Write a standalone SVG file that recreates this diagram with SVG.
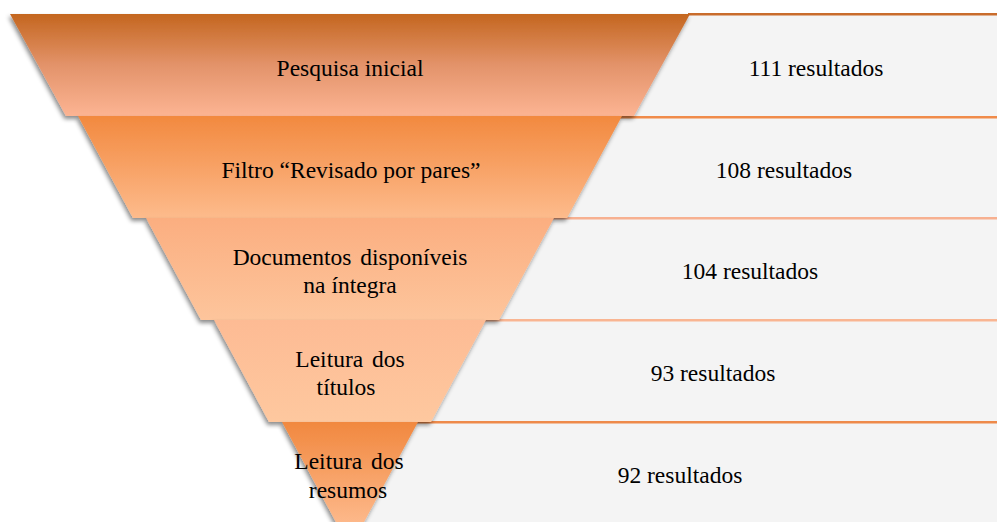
<svg xmlns="http://www.w3.org/2000/svg" width="997" height="522" viewBox="0 0 997 522">
<defs>
<linearGradient id="g1" x1="0" y1="0" x2="0" y2="1">
<stop offset="0" stop-color="#c4661f"/><stop offset="0.5" stop-color="#e3936a"/><stop offset="1" stop-color="#fcb493"/>
</linearGradient>
<linearGradient id="g2" x1="0" y1="0" x2="0" y2="1">
<stop offset="0" stop-color="#f2893f"/><stop offset="1" stop-color="#fdbb8c"/>
</linearGradient>
<linearGradient id="g3" x1="0" y1="0" x2="0" y2="1">
<stop offset="0" stop-color="#fbae80"/><stop offset="1" stop-color="#fdc59c"/>
</linearGradient>
<linearGradient id="g4" x1="0" y1="0" x2="0" y2="1">
<stop offset="0" stop-color="#fdbb94"/><stop offset="1" stop-color="#fec89f"/>
</linearGradient>
<linearGradient id="g5" x1="0" y1="0" x2="0" y2="1">
<stop offset="0" stop-color="#f1883f"/><stop offset="1" stop-color="#fdb98b"/>
</linearGradient>
<filter id="sh" x="-10%" y="-10%" width="120%" height="130%">
<feDropShadow dx="-1.5" dy="3" stdDeviation="2" flood-color="#000" flood-opacity="0.45"/>
</filter>
<style>
.row{fill:#f4f4f4;}
text{font-family:"Liberation Serif","DejaVu Serif","Noto Serif",serif;font-size:23.5px;fill:#000;text-anchor:middle;}
</style>
</defs>
<g id="rows">
<rect class="row" x="350" y="14" width="647" height="102"/>
<rect class="row" x="350" y="116" width="647" height="102"/>
<rect class="row" x="350" y="218" width="647" height="102"/>
<rect class="row" x="350" y="320" width="647" height="102"/>
<rect class="row" x="350" y="422" width="647" height="102"/>
<rect x="688" y="13" width="309" height="2.5" fill="#c96c2c"/>
<rect x="620" y="116" width="377" height="2.5" fill="#f08b4a"/>
<rect x="552" y="217" width="445" height="2.5" fill="#f7b090"/>
<rect x="484" y="319" width="513" height="2.5" fill="#f9b592"/>
<rect x="416" y="421" width="581" height="2.5" fill="#ee8a4a"/>
</g>
<g id="node1">
<polygon points="10,14 690,14 634,116 66,116" fill="url(#g1)" filter="url(#sh)"/>
<text x="350" y="76">Pesquisa inicial</text>
</g>
<g id="node2">
<polygon points="78,116 622,116 567,218 133,218" fill="url(#g2)" filter="url(#sh)"/>
<text x="351" y="178">Filtro “Revisado por pares”</text>
</g>
<g id="node3">
<polygon points="146,218 554,218 499,320 201,320" fill="url(#g3)" filter="url(#sh)"/>
<text x="350" y="265" word-spacing="3">Documentos disponíveis</text>
<text x="350" y="293">na íntegra</text>
</g>
<g id="node4">
<polygon points="214,320 486,320 431,422 269,422" fill="url(#g4)" filter="url(#sh)"/>
<text x="350" y="367" word-spacing="3">Leitura dos</text>
<text x="346" y="395">títulos</text>
</g>
<g id="node5">
<polygon points="282,422 418,422 363,524 337,524" fill="url(#g5)" filter="url(#sh)"/>
<text x="349" y="469" word-spacing="3">Leitura dos</text>
<text x="348" y="498">resumos</text>
</g>
<g id="results">
<text x="816" y="76">111 resultados</text>
<text x="784" y="178">108 resultados</text>
<text x="750" y="279">104 resultados</text>
<text x="713" y="381">93 resultados</text>
<text x="680" y="483">92 resultados</text>
</g>
<g id="connectors"/>
</svg>
